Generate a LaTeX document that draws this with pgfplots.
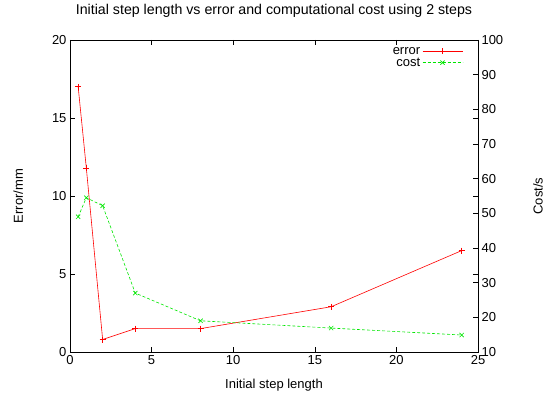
\documentclass[border=0pt]{standalone}
\usepackage{fontspec}
\setmainfont{Liberation Sans}
\usepackage{pgfplots}
\pgfplotsset{compat=1.18}

\definecolor{gpred}{RGB}{255,0,0}
\definecolor{gpgreen}{RGB}{0,230,0}

% step length vs error (mm) and cost (s)
\pgfplotstableread{
h   err   cost
0.5 17.0  49.0
1   11.8  54.5
2   0.8   52.2
4   1.5   27.0
8   1.5   19.0
16  2.9   16.9
24  6.5   14.9
}\steps

\pgfplotsset{
  gpaxis/.style={
    scale only axis, width=408pt, height=312pt,
    at={(0,0)}, anchor=south west,
    xmin=0, xmax=25,
    font=\fontsize{13}{15}\selectfont,
    /pgf/number format/assume math mode=true,
    major tick length=5pt,
    tick style={black, line width=0.5pt},
    axis line style={line width=0.7pt},
    minor tick num=0,
  },
  errstyle/.style={gpred, line width=0.6pt, mark=+, mark size=3pt, mark options={solid}},
  coststyle/.style={gpgreen, line width=0.6pt, dash pattern=on 3pt off 2pt, mark=x, mark size=3pt, mark options={solid}},
}

\begin{document}
\begin{tikzpicture}
\useasboundingbox (-70pt,-51pt) rectangle (484pt,352pt);
\begin{axis}[
  gpaxis,
  ymin=0, ymax=20,
  xtick={0,5,...,25}, ytick={0,5,...,20},
  xtick pos=both, ytick pos=both,
  yticklabel pos=left,
  xticklabel pos=bottom,
  xlabel={Initial step length},
  ylabel={Error/mm},
  xlabel style={at={(axis description cs:0.5,-0.106)}, anchor=center},
  ylabel style={at={(axis description cs:-0.127,0.5)}, anchor=center},
  title={\fontsize{14.2}{16}\selectfont Initial step length vs error and computational cost using 2 steps},
  title style={at={(axis description cs:0.5,1.074)}, anchor=center},
]
\addplot[errstyle] table[x=h, y=err] {\steps};
\end{axis}
\begin{axis}[
  gpaxis,
  ymin=10, ymax=100,
  ytick={10,20,...,100},
  axis x line=none,
  axis y line*=right,
  ylabel={Cost/s},
  ylabel style={at={(axis description cs:1.147,0.5)}, anchor=center},
  legend style={at={(axis description cs:1,1)}, anchor=north east, draw=none, fill=none,
    xshift=-12pt, yshift=-3pt, row sep=-2pt,
    legend cell align=right, font=\fontsize{13}{15}\selectfont},
  legend plot pos=right,
  legend image code/.code={
    \draw[mark repeat=2, mark phase=2, #1] plot coordinates {(0pt,0pt) (20pt,0pt) (40pt,0pt)};
  },
]
\addlegendimage{errstyle}
\addlegendentry{error}
\addplot[coststyle] table[x=h, y=cost] {\steps};
\addlegendentry{cost}
\end{axis}
\end{tikzpicture}
\end{document}
